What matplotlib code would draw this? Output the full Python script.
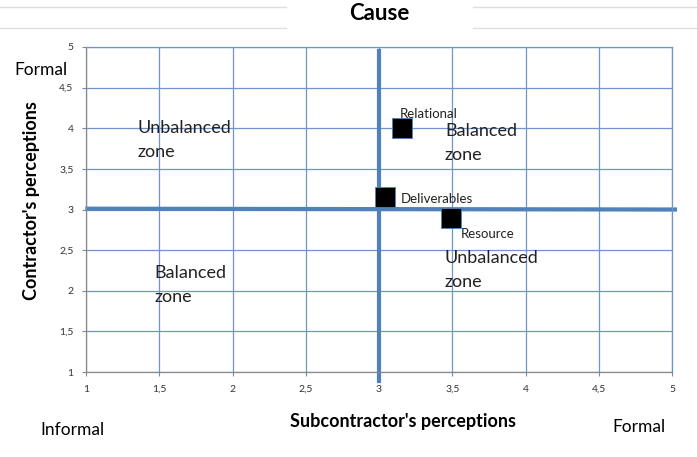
import matplotlib
matplotlib.use("Agg")
import matplotlib.pyplot as plt
from matplotlib.lines import Line2D

# Data
names = ["Relational", "Deliverables", "Resource"]
x_vals = [3.16, 3.04, 3.49]
y_vals = [4.0, 3.15, 2.9]
ticks = [1, 1.5, 2, 2.5, 3, 3.5, 4, 4.5, 5]
tick_labels = ["1", "1,5", "2", "2,5", "3", "3,5", "4", "4,5", "5"]

FONT = "Lato"
BLUE = "#4F81BD"
GRID = "#6F95CC"

fig = plt.figure(figsize=(6.97, 4.57), dpi=100)
ax = fig.add_axes([86/697, 1-372/457, (672-86)/697, (372-47)/457])
ax.set_xlim(1, 5)
ax.set_ylim(1, 5)
ax.set_xticks(ticks)
ax.set_yticks(ticks)
ax.set_xticklabels(tick_labels, fontsize=7.5, color="#333333", family=FONT)
ax.set_yticklabels(tick_labels, fontsize=7.5, color="#333333", family=FONT)
ax.grid(True, color=GRID, lw=0.9)
ax.set_axisbelow(True)
for s in ["top", "right"]:
    ax.spines[s].set_color(GRID)
    ax.spines[s].set_linewidth(0.9)
for s in ["left", "bottom"]:
    ax.spines[s].set_color("#888888")
    ax.spines[s].set_linewidth(0.9)
ax.tick_params(axis="both", length=3, color="#888888", pad=6)

# Quadrant lines
ax.plot([1.01, 5.02], [3.01, 3.0], color=BLUE, lw=3, clip_on=False, zorder=2)
ax.plot([3, 3], [4.95, 0.89], color=BLUE, lw=3, clip_on=False, zorder=2)

# Points
ax.plot(x_vals, y_vals, ls="none", marker="s", markersize=14.5,
        markerfacecolor="black", markeredgecolor=BLUE, markeredgewidth=0.6, zorder=3)
offsets = {"Relational": (-0.02, 0.18), "Deliverables": (0.11, -0.02),
           "Resource": (0.07, -0.20)}
for n, x, y in zip(names, x_vals, y_vals):
    dx, dy = offsets[n]
    ax.text(x + dx, y + dy, n, fontsize=9.5, family=FONT, color="#222222",
            ha="left", va="center", zorder=4)

# Zone labels (one text per line)
zone_kw = dict(fontsize=13, family=FONT, color="#222222", ha="left", va="center")
zones = [(1.35, 4.00, 3.705, "Unbalanced"), (3.45, 3.966, 3.671, "Balanced"),
         (1.47, 2.218, 1.923, "Balanced"), (3.45, 2.403, 2.108, "Unbalanced")]
for x, y1, y2, word in zones:
    ax.text(x, y1, word, **zone_kw)
    ax.text(x, y2, "zone", **zone_kw)

# Title and decorations
fig.text(379/697, 1-14/457, "Cause", fontsize=16, fontweight="bold", family=FONT,
         ha="center", va="center")
for yy in [7, 28]:
    fig.add_artist(Line2D([0, 286/697], [1-yy/457, 1-yy/457], color="#dddddd", lw=1))
    fig.add_artist(Line2D([473/697, 1], [1-yy/457, 1-yy/457], color="#dddddd", lw=1))

# Axis labels and side labels
fig.text(31/697, 1-201/457, "Contractor's perceptions", fontsize=13, fontweight="bold",
         family=FONT, rotation=90, ha="center", va="center")
fig.text(403/697, 1-422/457, "Subcontractor's perceptions", fontsize=13, fontweight="bold",
         family=FONT, ha="center", va="center")
fig.text(14/697, 1-70/457, "Formal", fontsize=12.5, family=FONT, ha="left", va="center")
fig.text(40/697, 1-430/457, "Informal", fontsize=12.5, family=FONT, ha="left", va="center")
fig.text(612/697, 1-427/457, "Formal", fontsize=12.5, family=FONT, ha="left", va="center")

fig.savefig("out.png", dpi=100, facecolor="white")
